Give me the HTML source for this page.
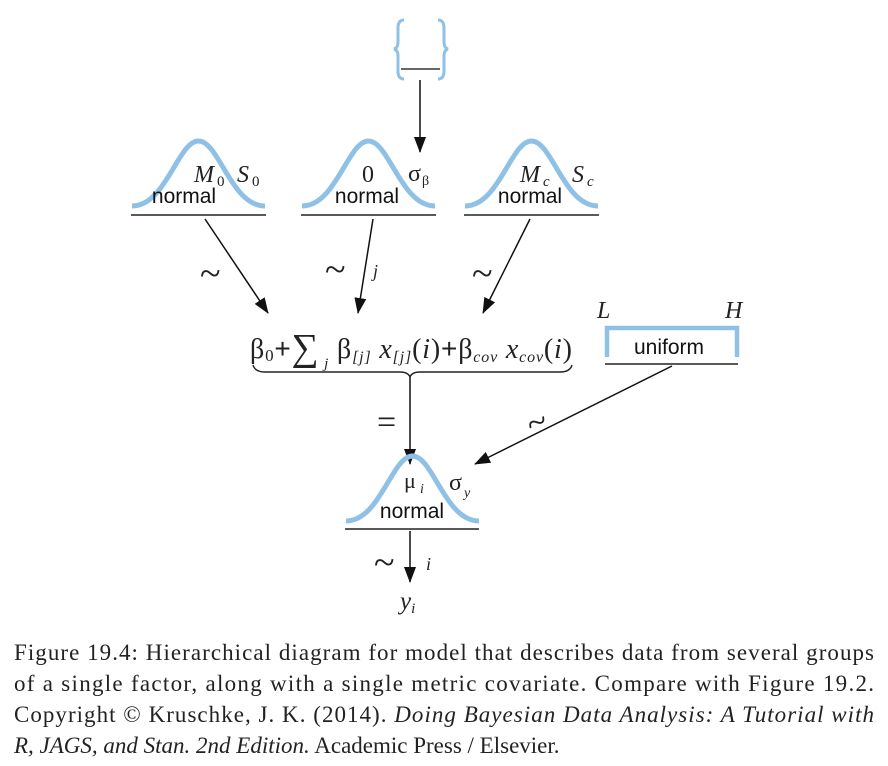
<!DOCTYPE html>
<html><head><meta charset="utf-8"><style>
body{margin:0;background:#fff}
svg{display:block}
.s{font-family:"Liberation Serif",serif;fill:#222}
.a{font-family:"Liberation Sans",sans-serif;fill:#111}
</style></head><body>
<svg width="888" height="766" viewBox="0 0 888 766">
<defs>
<marker id="ah" markerWidth="16" markerHeight="12" refX="15" refY="6" orient="auto" markerUnits="userSpaceOnUse" viewBox="0 0 16 12"><path d="M0,0 L16,6 L0,12 z" fill="#111"/></marker>
<path id="g" d="M0,0 C34,0 46,-65 66.5,-65 C87,-65 99,0 133,0" fill="none" stroke="#8fc1e6" stroke-width="5"/>
</defs>
<g>
<path d="M404,20 Q398,20 398,28 L398,42 Q398,48 394,49 Q398,50 398,56 L398,71 Q398,79 404,79" fill="none" stroke="#8fc1e6" stroke-width="3"/>
<path d="M438,20 Q444,20 444,28 L444,42 Q444,48 448,49 Q444,50 444,56 L444,71 Q444,79 438,79" fill="none" stroke="#8fc1e6" stroke-width="3"/>
<line x1="401" y1="69" x2="440" y2="69" stroke="#333" stroke-width="1.5"/>
</g>
<line x1="420" y1="80" x2="420" y2="152" stroke="#111" stroke-width="1.5" marker-end="url(#ah)"/>
<g>
<use href="#g" transform="translate(132,206)"/>
<line x1="131" y1="215" x2="266" y2="215" stroke="#222" stroke-width="1.6"/>
<text x="194" y="182" font-size="24" class="s" font-style="italic">M</text><text x="217" y="186" font-size="15" class="s">0</text>
<text x="237" y="182" font-size="24" class="s" font-style="italic">S</text><text x="252" y="186" font-size="15" class="s">0</text>
<text x="184" y="203" font-size="21" class="a" text-anchor="middle">normal</text>
</g>
<g>
<use href="#g" transform="translate(302,206)"/>
<line x1="301" y1="215" x2="436" y2="215" stroke="#222" stroke-width="1.6"/>
<text x="368" y="182" font-size="24" class="s" text-anchor="middle">0</text>
<text x="408" y="181" font-size="24" class="s">σ</text><text x="422" y="185" font-size="14" class="s">β</text>
<text x="367" y="203" font-size="21" class="a" text-anchor="middle">normal</text>
</g>
<g>
<use href="#g" transform="translate(465,206)"/>
<line x1="464" y1="215" x2="599" y2="215" stroke="#222" stroke-width="1.6"/>
<text x="520" y="182" font-size="24" class="s" font-style="italic">M</text><text x="543" y="186" font-size="15" class="s" font-style="italic">c</text>
<text x="572" y="182" font-size="24" class="s" font-style="italic">S</text><text x="587" y="186" font-size="15" class="s" font-style="italic">c</text>
<text x="530" y="203" font-size="21" class="a" text-anchor="middle">normal</text>
</g>
<line x1="205" y1="219" x2="268" y2="313" stroke="#111" stroke-width="1.5" marker-end="url(#ah)"/>
<line x1="373" y1="219" x2="358" y2="313" stroke="#111" stroke-width="1.5" marker-end="url(#ah)"/>
<line x1="530" y1="219" x2="483" y2="313" stroke="#111" stroke-width="1.5" marker-end="url(#ah)"/>
<text x="200" y="286" font-size="38" class="s">~</text>
<text x="325" y="282" font-size="38" class="s">~</text>
<text x="373" y="277" font-size="18" class="s" font-style="italic">j</text>
<text x="472" y="286" font-size="38" class="s">~</text>
<g>
<text x="250" y="358" font-size="28" class="s" textLength="322" lengthAdjust="spacing">β<tspan font-size="17" dy="3">0</tspan><tspan dy="-3" font-family="Liberation Sans">+</tspan><tspan font-size="38" dy="2">∑</tspan><tspan font-size="15" dy="8" font-style="italic"> j</tspan><tspan dy="-10"> β</tspan><tspan font-size="16" dy="4" font-style="italic">[j]</tspan><tspan dy="-4" font-style="italic"> x</tspan><tspan font-size="16" dy="4" font-style="italic">[j]</tspan><tspan dy="-4">(<tspan font-style="italic">i</tspan>)</tspan><tspan font-family="Liberation Sans">+</tspan>β<tspan font-size="16" dy="4" font-style="italic">cov</tspan><tspan dy="-4" font-style="italic"> x</tspan><tspan font-size="16" dy="4" font-style="italic">cov</tspan><tspan dy="-4">(<tspan font-style="italic">i</tspan>)</tspan></text>
<path d="M253,365 Q255,372 265,372 L400,372 Q408,372 410,377 Q412,372 420,372 L560,372 Q570,372 572,365" fill="none" stroke="#222" stroke-width="1.4"/>
</g>
<line x1="410" y1="377" x2="410" y2="464" stroke="#111" stroke-width="1.5" marker-end="url(#ah)"/>
<text x="377" y="433" font-size="34" class="s">=</text>
<g>
<text x="597" y="318" font-size="24" class="s" font-style="italic">L</text>
<text x="725" y="318" font-size="24" class="s" font-style="italic">H</text>
<path d="M607,357 L607,328 L737,328 L737,357" fill="none" stroke="#8fc1e6" stroke-width="4.5"/>
<text x="669" y="354" font-size="21" class="a" text-anchor="middle">uniform</text>
<line x1="605" y1="364" x2="738" y2="364" stroke="#222" stroke-width="1.6"/>
</g>
<line x1="672" y1="366" x2="475" y2="464" stroke="#111" stroke-width="1.5" marker-end="url(#ah)"/>
<text x="527" y="434" font-size="36" class="s" transform="rotate(-22 537 422)">~</text>
<g>
<use href="#g" transform="translate(346,521)"/>
<line x1="345" y1="529" x2="479" y2="529" stroke="#222" stroke-width="1.6"/>
<text x="404" y="488" font-size="22" class="s">μ</text><text x="420" y="493" font-size="14" class="s" font-style="italic">i</text>
<text x="449" y="490" font-size="24" class="s">σ</text><text x="464" y="497" font-size="14" class="s" font-style="italic">y</text>
<text x="412" y="518" font-size="21" class="a" text-anchor="middle">normal</text>
</g>
<line x1="410" y1="531" x2="410" y2="582" stroke="#111" stroke-width="1.5" marker-end="url(#ah)"/>
<text x="374" y="575" font-size="38" class="s">~</text>
<text x="426" y="570" font-size="18" class="s" font-style="italic">i</text>
<text x="400" y="609" font-size="25" class="s" font-style="italic">y<tspan font-size="15" dy="4">i</tspan></text>
<g>
<text x="14" y="660" font-size="23" class="s" textLength="860" lengthAdjust="spacing">Figure 19.4: Hierarchical diagram for model that describes data from several groups</text>
<text x="14" y="691" font-size="23" class="s" textLength="860" lengthAdjust="spacing">of a single factor, along with a single metric covariate.  Compare with Figure 19.2.</text>
<text x="14" y="722" font-size="23" class="s" textLength="860" lengthAdjust="spacing">Copyright © Kruschke, J. K. (2014). <tspan font-style="italic">Doing Bayesian Data Analysis: A Tutorial with</tspan></text>
<text x="14" y="753" font-size="23" class="s"><tspan font-style="italic">R, JAGS, and Stan. 2nd Edition.</tspan> Academic Press / Elsevier.</text>
</g>
</svg>
</body></html>
